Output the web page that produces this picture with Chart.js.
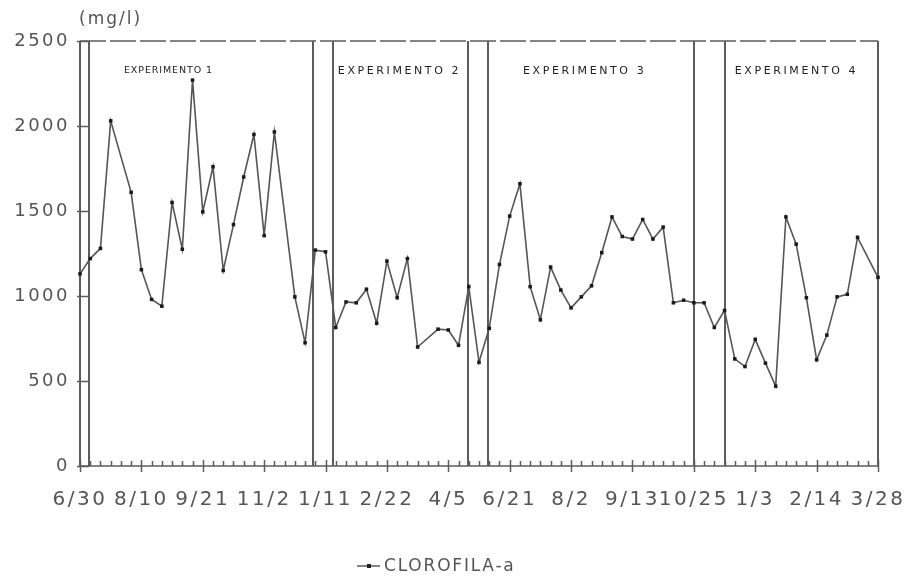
<!DOCTYPE html>
<html>
<head>
<meta charset="utf-8">
<script src="https://cdn.jsdelivr.net/npm/chart.js@4"></script>
<style>
  html, body { margin: 0; padding: 0; background: #fff; }
  #wrap { width: 911px; height: 582px; position: relative; }
</style>
</head>
<body>
<div id="wrap"><canvas id="chl"></canvas></div>
<script>
// weekly samples, null = week without a sample
let clorofila = [
    1130, 1220, 1280, 2030, null, 1610, 1155, 980, 940, 1550,
    1275, 2270, 1495, 1760, 1150, 1420, 1700, 1950, 1355, 1965,
    null, 995, 725, 1270, 1260, 815, 965, 960, 1040, 840,
    1205, 990, 1220, 700, null, 805, 800, 710, 1055, 610,
    810, 1185, 1470, 1660, 1055, 860, 1170, 1035, 930, 995,
    1060, 1255, 1465, 1350, 1335, 1450, 1335, 1405, 960, 975,
    960, 960, 815, 915, 630, 585, 745, 605, 470, 1465,
    1305, 990, 625, 770, 995, 1010, 1345, null, 1110
];
let dateTicks = ["6/30", "8/10", "9/21", "11/2", "1/11", "2/22", "4/5",
    "6/21", "8/2", "9/13", "10/25", "1/3", "2/14", "3/28"];
let yTicks = [0, 500, 1000, 1500, 2000, 2500];
let weeks = clorofila.map((v, i) => i);

// double lines between the experiments (in week units)
let separators = [0.9, 22.8, 24.75, 37.95, 39.9, 60, 63];
let experiments = [
    { text: "EXPERIMENTO 1", at: 8.6, size: 9.5, spacing: 0.9 },
    { text: "EXPERIMENTO 2", at: 31.1, size: 11, spacing: 2.6 },
    { text: "EXPERIMENTO 3", at: 49.2, size: 11, spacing: 2.6 },
    { text: "EXPERIMENTO 4", at: 69.9, size: 11, spacing: 2.6 }
];

const FONT = "'DejaVu Sans', sans-serif";

const frame = {
    id: 'frame',
    beforeDraw(chart) {
        chart.ctx.letterSpacing = '2.5px';
    },
    beforeDatasetsDraw(chart) {
        const { ctx, chartArea: a, scales: { x, y } } = chart;
        ctx.save();
        ctx.letterSpacing = '0px';
        ctx.strokeStyle = '#5c5c5c';

        // top dashed border
        ctx.lineWidth = 1.5;
        ctx.setLineDash([26, 4]);
        ctx.beginPath();
        ctx.moveTo(a.left, a.top);
        ctx.lineTo(a.right, a.top);
        ctx.stroke();
        ctx.setLineDash([]);

        // left / right borders
        ctx.lineWidth = 2;
        ctx.beginPath();
        ctx.moveTo(a.left, a.top);
        ctx.lineTo(a.left, a.bottom);
        ctx.moveTo(a.right, a.top);
        ctx.lineTo(a.right, a.bottom);
        ctx.stroke();

        // experiment separators
        ctx.lineWidth = 2;
        ctx.beginPath();
        separators.forEach(s => {
            let px = Math.round(x.getPixelForValue(s));
            ctx.moveTo(px, a.top);
            ctx.lineTo(px, a.bottom);
        });
        ctx.stroke();

        // bottom axis with week ticks
        ctx.lineWidth = 1.5;
        ctx.beginPath();
        ctx.moveTo(a.left, a.bottom);
        ctx.lineTo(a.right, a.bottom);
        weeks.forEach(i => {
            let px = Math.round(x.getPixelForValue(i)) + 0.5;
            if (i % 6 === 0) {
                ctx.moveTo(px, a.bottom - 6);
                ctx.lineTo(px, a.bottom + 6);
            } else {
                ctx.moveTo(px, a.bottom - 5);
                ctx.lineTo(px, a.bottom);
            }
        });
        ctx.stroke();

        // y ticks between the double left line
        ctx.lineWidth = 1.5;
        ctx.beginPath();
        yTicks.forEach(v => {
            let py = Math.round(y.getPixelForValue(v)) + 0.5;
            ctx.moveTo(a.left - 3, py);
            ctx.lineTo(x.getPixelForValue(separators[0]), py);
        });
        ctx.stroke();
        ctx.restore();
    },
    afterDraw(chart) {
        const { ctx, chartArea: a, scales: { x } } = chart;
        ctx.letterSpacing = '0px';
        ctx.save();

        ctx.fillStyle = '#222';
        ctx.textAlign = 'center';
        ctx.textBaseline = 'middle';
        experiments.forEach(e => {
            ctx.font = `${e.size}px ${FONT}`;
            ctx.letterSpacing = e.spacing + 'px';
            ctx.fillText(e.text, x.getPixelForValue(e.at) + e.spacing / 2, 71);
        });

        // unit
        ctx.fillStyle = '#555';
        ctx.font = `17px ${FONT}`;
        ctx.letterSpacing = '2px';
        ctx.textAlign = 'left';
        ctx.fillText("(mg/l)", a.left - 1, 20);

        // legend
        let ly = 566;
        ctx.strokeStyle = '#5a5a5a';
        ctx.lineWidth = 1.5;
        ctx.beginPath();
        ctx.moveTo(357, ly);
        ctx.lineTo(380, ly);
        ctx.stroke();
        ctx.fillStyle = '#222';
        ctx.fillRect(367, ly - 2, 4, 4);
        ctx.fillStyle = '#555';
        ctx.font = `17px ${FONT}`;
        ctx.letterSpacing = '1.8px';
        ctx.fillText("CLOROFILA-a", 384, ly + 1);
        ctx.restore();
    }
};

new Chart(document.getElementById("chl"), {
    type: 'line',
    data: {
        labels: weeks,
        datasets: [{
            label: "CLOROFILA-a",
            data: clorofila,
            borderColor: '#555',
            borderWidth: 1.6,
            tension: 0,
            spanGaps: true,
            pointStyle: 'rect',
            pointRadius: 2.5,
            pointBackgroundColor: '#1a1a1a',
            pointBorderColor: '#1a1a1a',
            pointBorderWidth: 0
        }]
    },
    options: {
        responsive: true,
        maintainAspectRatio: false,
        animation: false,
        layout: { padding: { top: 41, right: 33, left: 0, bottom: 0 } },
        plugins: {
            legend: { display: false },
            tooltip: { enabled: false }
        },
        scales: {
            x: {
                type: 'category',
                offset: false,
                grid: { display: false, drawTicks: false },
                border: { display: false },
                afterFit: s => {
                    s.height = 116;
                    s.paddingLeft = 0;
                    s.paddingRight = 0;
                },
                ticks: {
                    autoSkip: false,
                    maxRotation: 0,
                    padding: 22,
                    color: '#555',
                    font: { family: FONT, size: 20 },
                    callback: (v, i) => i % 6 === 0 ? dateTicks[i / 6] : ''
                }
            },
            y: {
                min: 0,
                max: 2500,
                grid: { display: false, drawTicks: false },
                border: { display: false },
                afterFit: s => {
                    s.width = 80;
                    s.paddingTop = 0;
                    s.paddingBottom = 0;
                },
                afterBuildTicks: s => { s.ticks = yTicks.map(v => ({ value: v })); },
                ticks: {
                    padding: 10,
                    color: '#555',
                    font: { family: FONT, size: 18 },
                    callback: v => String(v)
                }
            }
        }
    },
    plugins: [frame]
});
</script>
</body>
</html>
